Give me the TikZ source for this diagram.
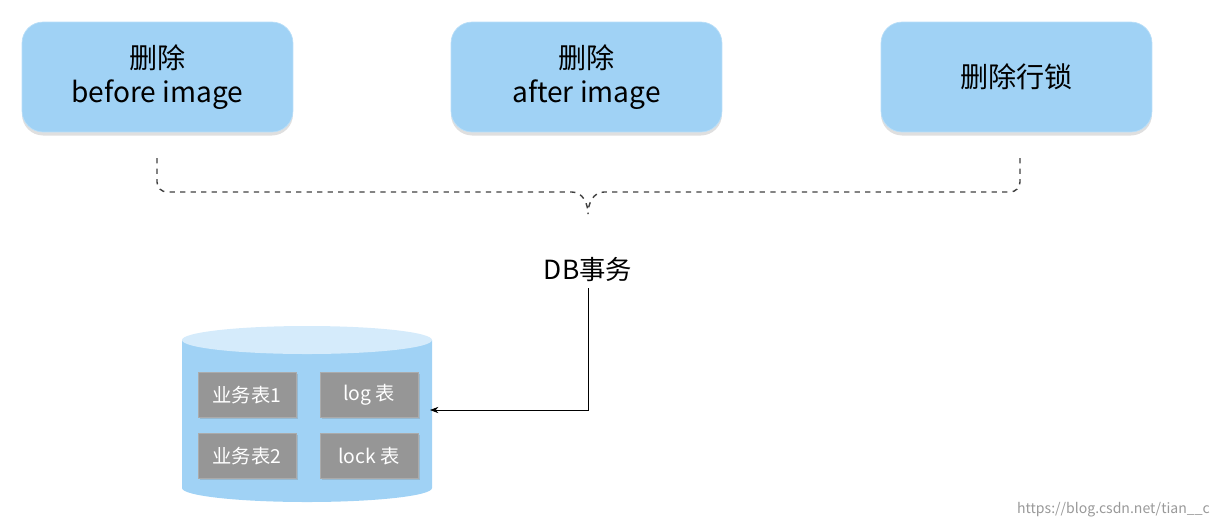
\documentclass[tikz,border=0pt]{standalone}
\usepackage{fontspec}
\setmainfont{Noto Sans CJK SC}
\usetikzlibrary{positioning, shapes.geometric, arrows.meta, shadows}
\definecolor{boxblue}{RGB}{160,210,245}
\definecolor{boxedge}{RGB}{185,222,248}
\definecolor{tblgrey}{RGB}{150,150,150}
\tikzset{
	stepbox/.style={rounded corners=12pt, fill=boxblue, draw=boxedge, minimum width=5.42cm, minimum height=2.2cm, align=center, font=\fontsize{16}{19}\selectfont, drop shadow={opacity=.25, shadow xshift=0pt, shadow yshift=-2pt}},
	tblbox/.style={fill=tblgrey, draw=tblgrey!80, minimum width=1.96cm, minimum height=.9cm, text=white, font=\fontsize{11}{13}\selectfont, drop shadow={opacity=.3, shadow xshift=1pt, shadow yshift=-1pt}}
}
\begin{document}
\begin{tikzpicture}[>=Stealth, x=0.02cm, y=-0.02cm]
	\useasboundingbox (0,0) rectangle (1221,529);
	% top boxes
	\node[stepbox] (before) at (157.5,77) {删除\\before image};
	\node[stepbox] (after) at (586.5,77) {删除\\after image};
	\node[stepbox] (lock) at (1016.5,77) {删除行锁};
	% dashed brace
	\coordinate (bl) at (157,158);
	\coordinate (br) at (1020,158);
	\coordinate (tip) at (588,214);
	\draw[dashed, thick, black!75] (bl) -- (157,182) to[out=-90,in=180] (167,192) -- (572,192) to[out=0,in=90] (tip);
	\draw[dashed, thick, black!75] (br) -- (1020,182) to[out=-90,in=0] (1010,192) -- (604,192) to[out=180,in=90] (tip);
	% DB transaction
	\node[font=\fontsize{15}{17}\selectfont] (tx) at (588,270) {DB事务};
	% database
	\fill[boxblue] (182,340) -- (182,488) arc[start angle=180, end angle=0, x radius=125, y radius=14] -- (432,340) -- cycle;
	\fill[boxedge!60!white] (307,340) ellipse[x radius=125, y radius=14];
	\node[tblbox] (t1) at (247,395) {业务表1};
	\node[tblbox] (t2) at (369,395) {log 表};
	\node[tblbox] (t3) at (247,456) {业务表2};
	\node[tblbox] (t4) at (369,456) {lock 表};
	\coordinate (db) at (430,410);
	\draw[->] (tx.south) |- (db);
	% watermark
	\node[text=black!40, anchor=east, font=\fontsize{8}{10}\selectfont] at (1216,510) {https://blog.csdn.net/tian\_\_c};
\end{tikzpicture}
\end{document}
